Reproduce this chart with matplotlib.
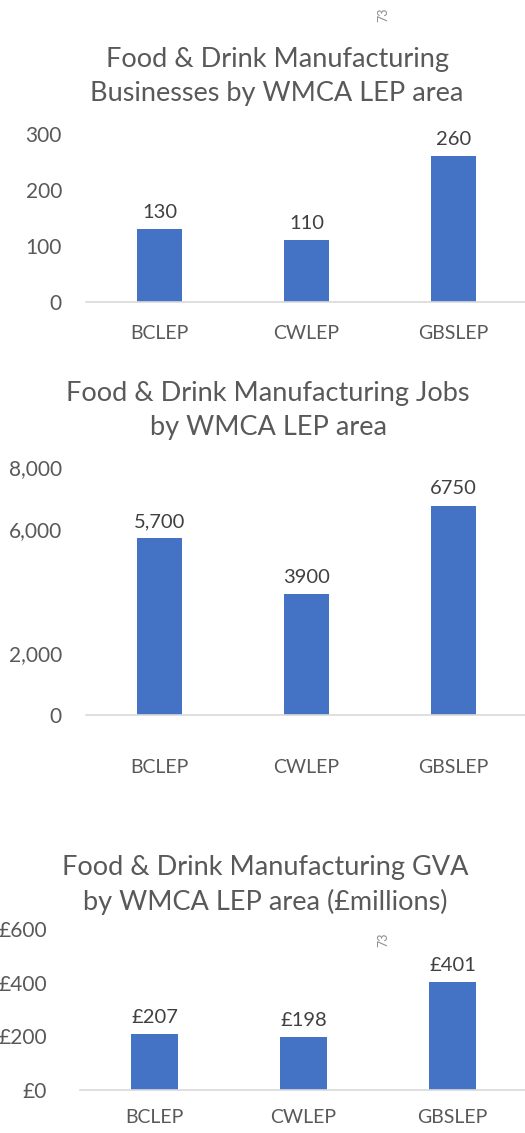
import matplotlib
matplotlib.use('Agg')
import matplotlib.pyplot as plt

# 数据
areas = ['BCLEP', 'CWLEP', 'GBSLEP']

businesses = [130, 110, 260]
business_labels = ['130', '110', '260']
business_ticks = [0, 100, 200, 300]

jobs = [5700, 3900, 6750]
job_labels = ['5,700', '3900', '6750']
job_ticks = [0, 2000, 6000, 8000]
job_ticklabels = ['0', '2,000', '6,000', '8,000']

gva = [207, 198, 401]
gva_labels = ['£207', '£198', '£401']
gva_ticks = [0, 200, 400, 600]
gva_ticklabels = ['£0', '£200', '£400', '£600']

page_no = '73'

plt.rcParams['font.family'] = ['Lato', 'DejaVu Sans']
bar_color = '#4472C4'
text_color = '#595959'

W, H = 525, 1133
PT = 72 / 100  # 像素换算成磅
fig = plt.figure(figsize=[W / 100, H / 100], dpi=100)


def px_axes(left, base, top, right=527):
    # 以像素位置建立坐标轴
    return fig.add_axes([left / W, 1 - base / H, (right - left) / W, (base - top) / H])


def draw_bars(ax, values, labels, ticks, ticklabels, ymax, ypad, xpad):
    x = range(len(areas))
    bars = ax.bar(x, values, width=0.31, color=bar_color)
    ax.set_xlim(-0.5, len(areas) - 0.5)
    ax.set_ylim(0, ymax)
    ax.set_xticks(list(x))
    ax.set_xticklabels(areas, fontsize=14, color=text_color)
    ax.set_yticks(ticks)
    ax.set_yticklabels(ticklabels, fontsize=15, color=text_color)
    ax.tick_params(axis='both', length=0)
    ax.tick_params(axis='y', pad=ypad * PT)
    ax.tick_params(axis='x', pad=xpad * PT)
    for s in ['top', 'right', 'left']:
        ax.spines[s].set_visible(False)
    ax.spines['bottom'].set_color('#D9D9D9')
    ax.spines['bottom'].set_linewidth(1.2)
    ax.bar_label(bars, labels=labels, padding=6, fontsize=14.5, color='#404040')
    ax.patch.set_alpha(0)
    return ax


def title(x, y, s):
    fig.text(x / W, 1 - y / H, s, ha='center', va='center', fontsize=19.5,
             color=text_color, linespacing=1.45)


# 第一个图表：企业数量
ax1 = px_axes(86, 302, 134)
draw_bars(ax1, businesses, business_labels, business_ticks,
          [str(t) for t in business_ticks], 300, 24, 23)
title(277, 77, 'Food & Drink Manufacturing\nBusinesses by WMCA LEP area')

# 第二个图表：就业人数
ax2 = px_axes(86, 715, 467)
draw_bars(ax2, jobs, job_labels, job_ticks, job_ticklabels, 8000, 24, 44)
title(268, 411, 'Food & Drink Manufacturing Jobs\nby WMCA LEP area')

# 第三个图表：GVA
ax3 = px_axes(80, 1090, 929)
draw_bars(ax3, gva, gva_labels, gva_ticks, gva_ticklabels, 600, 33, 19)
title(265, 885, 'Food & Drink Manufacturing GVA\nby WMCA LEP area (£millions)')

# 页码
for y in [15, 940]:
    fig.text(383 / W, 1 - y / H, page_no, rotation=90, ha='center', va='center',
             fontsize=9, color='#8C8C8C')

plt.savefig('out.png', dpi=100)
